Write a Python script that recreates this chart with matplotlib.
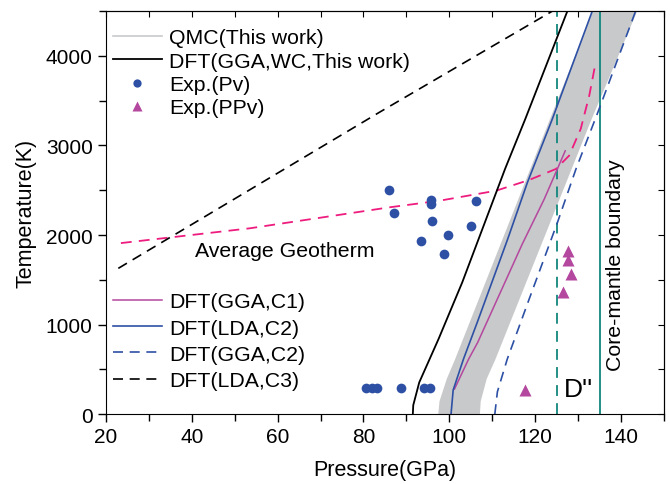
import matplotlib
matplotlib.use("Agg")
import matplotlib.pyplot as plt
from matplotlib.lines import Line2D
import numpy as np

plt.rcParams['font.family'] = ['Liberation Sans', 'DejaVu Sans']

# QMC band (pressure at left / right edge for each temperature)
qmc_T = [0, 150, 400, 615, 3296, 4500]
qmc_left = [97.3, 97.6, 99.3, 101.2, 123.3, 133.3]
qmc_right = [107.0, 107.2, 108.6, 110.6, 133.0, 143.6]

# DFT(GGA,WC,This work)
wc_P = [91.5, 91.6, 93.0, 97.5, 103.0, 113.0, 117.7, 127.5]
wc_T = [0, 100, 355, 840, 1470, 2740, 3296, 4500]

# DFT(GGA,C1)
c1_P = [101.2, 104.5, 106.6, 117.0, 122.1, 127.0]
c1_T = [280, 615, 800, 1900, 2400, 2940]

# DFT(LDA,C2)
ldac2_P = [100.4, 100.9, 103.3, 106.5, 113.6, 118.2, 124.0, 133.3]
ldac2_T = [0, 270, 615, 1024, 1955, 2588, 3296, 4500]

# DFT(GGA,C2)
ggac2_P = [110.6, 111.2, 113.5, 118.6, 125.2, 129.5, 134.9, 143.4]
ggac2_T = [0, 250, 615, 1285, 2142, 2737, 3408, 4500]

# DFT(LDA,C3)
ldac3_P = [22.9, 83.7, 124.0]
ldac3_T = [1628, 3370, 4500]

# Average geotherm
geo_P = [23.5, 53.5, 86.0, 97.7, 110.9, 118.6, 124.8, 127.9, 130.6, 132.6, 134.1]
geo_T = [1910, 2075, 2309, 2383, 2495, 2615, 2737, 2886, 3184, 3557, 3930]

# Exp. (Pv)
pv_P = [85.9, 87.2, 95.7, 95.7, 106.2, 95.9, 93.3, 99.8, 105.0, 98.7,
        80.6, 81.9, 83.1, 88.8, 94.0, 95.5]
pv_T = [2503, 2242, 2395, 2346, 2384, 2153, 1937, 2000, 2097, 1788,
        287, 287, 287, 287, 287, 287]

# Exp. (PPv)
ppv_P = [127.7, 127.7, 128.3, 126.4, 117.7]
ppv_T = [1825, 1724, 1564, 1359, 272]

d2_P = 125
cmb_P = 135

blue = '#2D50A5'
magenta = '#B4479E'
pink = '#EE1C7E'
teal = '#11877D'
gray = '#C8C9CB'

fig = plt.figure(figsize=(6.7, 4.85), dpi=100)
ax = fig.add_axes([0.158, 0.144, 0.833, 0.831])

ax.fill_betweenx(qmc_T, qmc_left, qmc_right, color=gray, lw=0)
ax.axvline(d2_P, color=teal, lw=1.3, ls=(0, (6, 4)))
ax.axvline(cmb_P, color=teal, lw=1.3)
ax.plot(geo_P, geo_T, color=pink, lw=1.3, ls=(0, (6, 4)))
l_wc, = ax.plot(wc_P, wc_T, color='black', lw=1.3)
l_c1, = ax.plot(c1_P, c1_T, color=magenta, lw=1.1)
l_ldac2, = ax.plot(ldac2_P, ldac2_T, color=blue, lw=1.2)
l_ggac2, = ax.plot(ggac2_P, ggac2_T, color=blue, lw=1.2, ls=(0, (6, 4)))
l_ldac3, = ax.plot(ldac3_P, ldac3_T, color='black', lw=1.2, ls=(0, (6, 4)))
l_pv, = ax.plot(pv_P, pv_T, 'o', color=blue, ms=7, mec='none', ls='none')
l_ppv, = ax.plot(ppv_P, ppv_T, '^', color=magenta, ms=8, mec='none', ls='none')

ax.set_xlim(20, 150)
ax.set_ylim(0, 4500)
ax.set_xticks(np.arange(20, 141, 20))
ax.set_xticks(np.arange(20, 151, 10), minor=True)
ax.set_yticks(np.arange(0, 4001, 1000))
ax.set_yticks(np.arange(0, 4501, 500), minor=True)
ax.tick_params(which='both', direction='out', labelsize=15, width=1)
ax.tick_params(which='major', length=6)
ax.tick_params(which='minor', length=5)

top = ax.secondary_xaxis('top')
top.set_xticks(np.arange(20, 151, 10))
top.tick_params(direction='in', length=4, labeltop=False)
right = ax.secondary_yaxis('right')
right.set_yticks(np.arange(0, 4501, 500))
right.tick_params(direction='in', length=4, labelright=False)

ax.set_xlabel('Pressure(GPa)', fontsize=15.5, labelpad=9)
ax.set_ylabel('Temperature(K)', fontsize=15.5, labelpad=7)

ax.text(40.7, 1830, 'Average Geotherm', fontsize=15.3, va='center')
ax.text(126.7, 280, "D''", fontsize=19, va='center')
ax.text(138.8, 1676, 'Core-mantle boundary', fontsize=15.3, rotation=90,
        ha='center', va='center')

qmc_proxy = Line2D([], [], color=gray, lw=1.2)
leg1 = ax.legend([qmc_proxy, l_wc, l_pv, l_ppv],
                 ['QMC(This work)', 'DFT(GGA,WC,This work)', 'Exp.(Pv)', 'Exp.(PPv)'],
                 loc='upper left', bbox_to_anchor=(0.0125, 0.958), frameon=False,
                 fontsize=15.3, handlelength=2.3, handletextpad=0.35,
                 labelspacing=0.21, borderpad=0, borderaxespad=0, markerscale=0.85)
ax.add_artist(leg1)
ax.legend([l_c1, l_ldac2, l_ggac2, l_ldac3],
          ['DFT(GGA,C1)', 'DFT(LDA,C2)', 'DFT(GGA,C2)', 'DFT(LDA,C3)'],
          loc='lower left', bbox_to_anchor=(0.0125, 0.06), frameon=False,
          fontsize=15.3, handlelength=2.3, handletextpad=0.35,
          labelspacing=0.34, borderpad=0, borderaxespad=0)

fig.savefig('out.png', dpi=100)
